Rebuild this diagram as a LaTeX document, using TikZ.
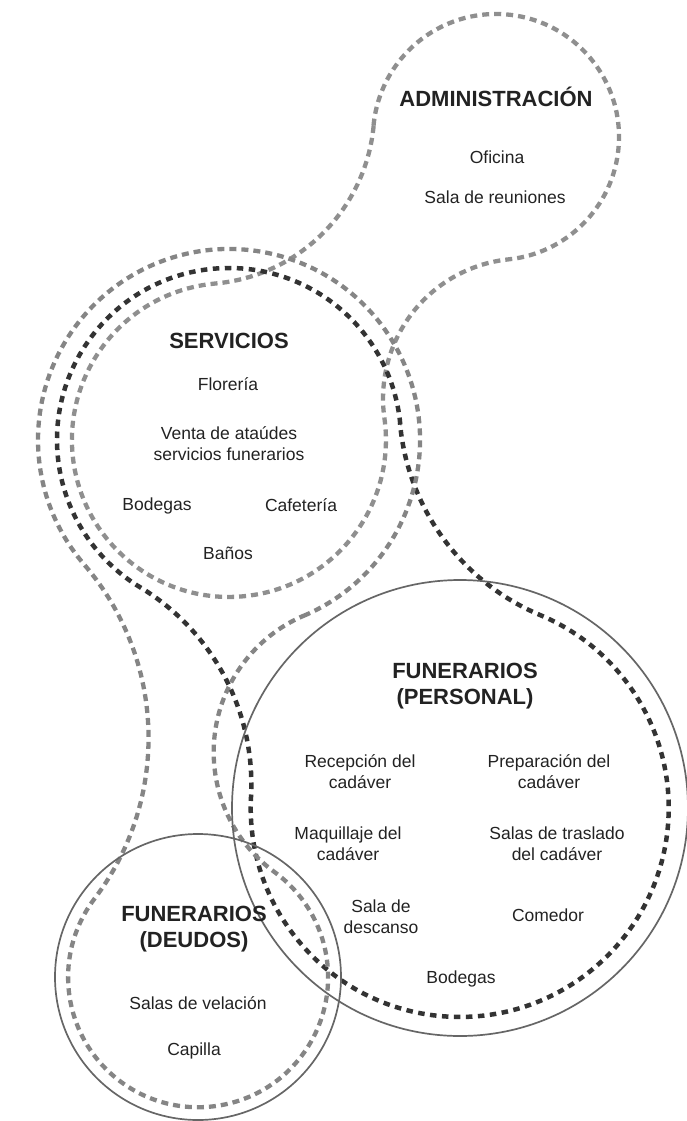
\documentclass[tikz,border=0pt]{standalone}
\usepackage{fontspec}
\setmainfont{Liberation Sans}
\usepackage{tikz}
\definecolor{palegray}{HTML}{8F8F8F}
\definecolor{midgray}{HTML}{858585}
\definecolor{darkgray}{HTML}{333333}
\definecolor{ringgray}{HTML}{666666}
\definecolor{inkgray}{HTML}{222222}

\begin{document}
\begin{tikzpicture}[
  x=1pt, y=1pt,
  pale/.style={draw=palegray, line width=4.3pt, dash pattern=on 7pt off 5pt},
  outer/.style={pale, draw=midgray},
  dark/.style={draw=darkgray, line width=4.5pt, dash pattern=on 6.5pt off 5.5pt},
  ring/.style={draw=ringgray, line width=1.7pt},
  head/.style={align=center, text=inkgray, inner sep=0pt, font=\bfseries\fontsize{22}{26.5}\selectfont},
  item/.style={align=center, text=inkgray, inner sep=0pt, font=\fontsize{17.5}{21}\selectfont}
]
\useasboundingbox (0,0) rectangle (686,-1121);

% centres of the bubbles
\coordinate (ca) at (496,-137);
\coordinate (cs) at (229,-440);
\coordinate (cp) at (460,-808);
\coordinate (cd) at (198,-977);

% administracion + servicios (inner)
\draw[pale] (ca) ++(174.7:123)
  arc[start angle=174.7, end angle=-84.1, radius=123]
  arc[start angle=95.9, end angle=188.0, radius=140]
  arc[start angle=8.0, end angle=-264.9, radius=157]
  arc[start angle=-84.9, end angle=-5.3, radius=175] -- cycle;

% servicios + personal
\draw[dark] (cs) ++(5.3:172)
  arc[start angle=5.3, end angle=238.9, radius=172]
  arc[start angle=58.9, end angle=-3.1, radius=230]
  arc[start angle=176.9, end angle=427.3, radius=209]
  arc[start angle=247.3, end angle=185.3, radius=230] -- cycle;

% servicios (outer) + deudos
\draw[outer] (cs) ++(-67.0:191)
  arc[start angle=-67.0, end angle=220.7, radius=191]
  arc[start angle=40.7, end angle=-37.2, radius=266]
  arc[start angle=142.9, end angle=413.9, radius=130]
  arc[start angle=233.9, end angle=113.0, radius=148.5] -- cycle;

\draw[ring] (cp) circle[radius=228];
\draw[ring] (cd) circle[radius=143];

\node[head] (admin) at (496,-97) {ADMINISTRACIÓN};
\node[item] (oficina) at (497,-157) {Oficina};
\node[item] (reuniones) at (495,-197) {Sala de reuniones};

\node[head] (servicios) at (229,-341) {SERVICIOS};
\node[item] (floreria) at (228,-384) {Florería};
\node[item] (venta) at (229,-444) {Venta de ataúdes\\servicios funerarios};
\node[item] (bodegasS) at (157,-506) {Bodegas};
\node[item] (cafeteria) at (301,-505) {Cafetería};
\node[item] (banos) at (228,-553) {Baños};

\node[head] (personal) at (465,-686) {FUNERARIOS\\(PERSONAL)};
\node[item] (recepcion) at (360,-772) {Recepción del\\cadáver};
\node[item] (preparacion) at (549,-772) {Preparación del\\cadáver};
\node[item] (maquillaje) at (348,-844) {Maquillaje del\\cadáver};
\node[item] (traslado) at (557,-844) {Salas de traslado\\del cadáver};
\node[item] (descanso) at (381,-917) {Sala de\\descanso};
\node[item] (comedor) at (548,-915) {Comedor};
\node[item] (bodegasP) at (461,-979) {Bodegas};

\node[head] (deudos) at (194,-929) {FUNERARIOS\\(DEUDOS)};
\node[item] (velacion) at (198,-1003) {Salas de velación};
\node[item] (capilla) at (194,-1051) {Capilla};
\end{tikzpicture}
\end{document}
